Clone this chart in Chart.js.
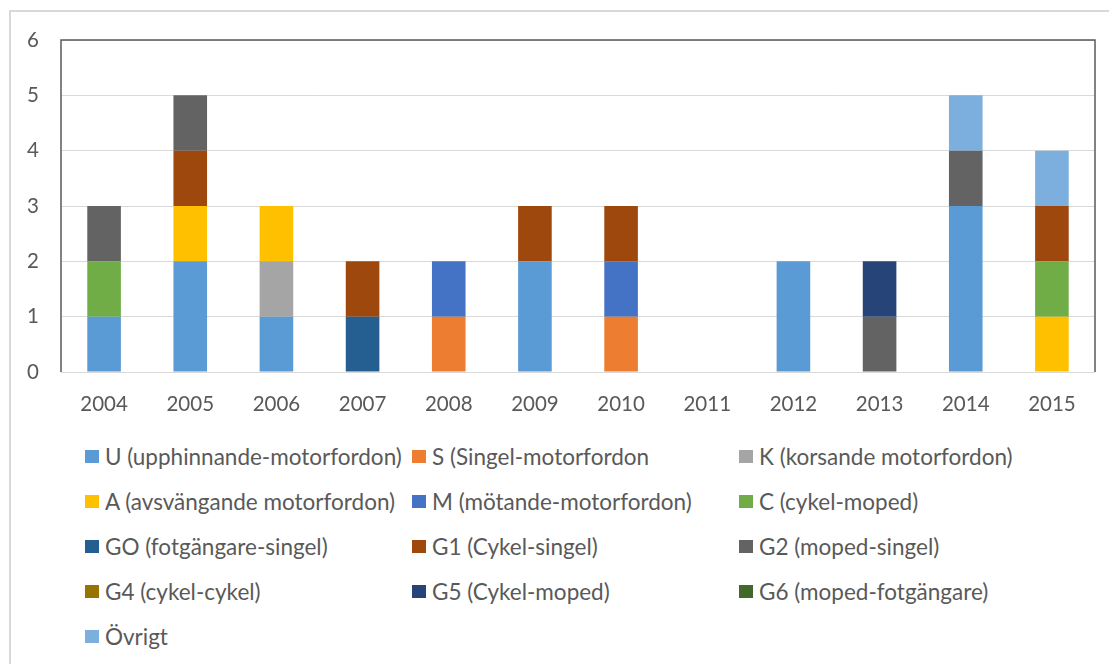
<!DOCTYPE html>
<html>
<head>
<meta charset="utf-8">
<script src="https://cdn.jsdelivr.net/npm/chart.js@4"></script>
<style>
  body { margin: 0; background: #fff; font-family: Lato, "Liberation Sans", sans-serif; }
  #wrap { position: relative; width: 1109px; height: 664px; overflow: hidden; }
  #frame { position: absolute; left: 9px; top: 10px; width: 1200px; height: 800px;
           border-left: 2px solid #d9d9d9; border-top: 2px solid #d9d9d9; }
  #chartBox { position: absolute; left: 0; top: 0; width: 1109px; height: 425px; }
  #legend { position: absolute; left: 85px; top: 434px; display: grid;
            grid-template-columns: 327px 327px 327px; grid-auto-rows: 45px; }
  .item { display: flex; align-items: center; font-size: 22.5px; color: #595959; white-space: nowrap; }
  .sw { width: 14px; height: 13px; margin-right: 6px; flex: none; }
</style>
</head>
<body>
<div id="wrap">
  <div id="frame"></div>
  <div id="chartBox"><canvas id="myChart"></canvas></div>
  <div id="legend"></div>
</div>
<script>
// år
const years = ['2004', '2005', '2006', '2007', '2008', '2009', '2010', '2011', '2012', '2013', '2014', '2015'];

// antal olyckor per typ och år
const U_upphinnande = [1, 2, 1, 0, 0, 2, 0, 0, 2, 0, 3, 0];
const S_singel      = [0, 0, 0, 0, 1, 0, 1, 0, 0, 0, 0, 0];
const K_korsande    = [0, 0, 1, 0, 0, 0, 0, 0, 0, 0, 0, 0];
const A_avsvangande = [0, 1, 1, 0, 0, 0, 0, 0, 0, 0, 0, 1];
const M_motande     = [0, 0, 0, 0, 1, 0, 1, 0, 0, 0, 0, 0];
const C_cykelMoped  = [1, 0, 0, 0, 0, 0, 0, 0, 0, 0, 0, 1];
const GO_fotganare  = [0, 0, 0, 1, 0, 0, 0, 0, 0, 0, 0, 0];
const G1_cykel      = [0, 1, 0, 1, 0, 1, 1, 0, 0, 0, 0, 1];
const G2_moped      = [1, 1, 0, 0, 0, 0, 0, 0, 0, 1, 1, 0];
const G4_cykelCykel = [0, 0, 0, 0, 0, 0, 0, 0, 0, 0, 0, 0];
const G5_cykelMoped = [0, 0, 0, 0, 0, 0, 0, 0, 0, 1, 0, 0];
const G6_mopedFot   = [0, 0, 0, 0, 0, 0, 0, 0, 0, 0, 0, 0];
const ovrigt        = [0, 0, 0, 0, 0, 0, 0, 0, 0, 0, 1, 1];

const yTicks = [0, 1, 2, 3, 4, 5, 6];

const series = [
  { label: 'U (upphinnande-motorfordon)', data: U_upphinnande, color: '#5b9bd5' },
  { label: 'S (Singel-motorfordon', data: S_singel, color: '#ed7d31' },
  { label: 'K (korsande motorfordon)', data: K_korsande, color: '#a5a5a5' },
  { label: 'A (avsvängande motorfordon)', data: A_avsvangande, color: '#ffc000' },
  { label: 'M (mötande-motorfordon)', data: M_motande, color: '#4472c4' },
  { label: 'C (cykel-moped)', data: C_cykelMoped, color: '#70ad47' },
  { label: 'GO (fotgängare-singel)', data: GO_fotganare, color: '#255e91' },
  { label: 'G1 (Cykel-singel)', data: G1_cykel, color: '#9e480e' },
  { label: 'G2 (moped-singel)', data: G2_moped, color: '#636363' },
  { label: 'G4 (cykel-cykel)', data: G4_cykelCykel, color: '#997300' },
  { label: 'G5 (Cykel-moped)', data: G5_cykelMoped, color: '#264478' },
  { label: 'G6 (moped-fotgängare)', data: G6_mopedFot, color: '#43682b' },
  { label: 'Övrigt', data: ovrigt, color: '#7cafdd' }
];

// ram runt plotytan (vänster, topp, höger)
const plotFrame = {
  id: 'plotFrame',
  afterDatasetsDraw(chart) {
    const a = chart.chartArea;
    const c = chart.ctx;
    c.save();
    c.strokeStyle = '#595959';
    c.lineWidth = 1.5;
    c.beginPath();
    c.moveTo(a.left, a.bottom);
    c.lineTo(a.left, a.top);
    c.lineTo(a.right, a.top);
    c.lineTo(a.right, a.bottom);
    c.stroke();
    c.restore();
  }
};

const ctx = document.getElementById('myChart');

new Chart(ctx, {
  type: 'bar',
  data: {
    labels: years,
    datasets: series.map(s => ({
      label: s.label,
      data: s.data,
      backgroundColor: s.color,
      borderWidth: 0,
      categoryPercentage: 1,
      barPercentage: 0.39
    }))
  },
  options: {
    responsive: true,
    maintainAspectRatio: false,
    animation: false,
    layout: { padding: { left: 0, top: 40, right: 14, bottom: 0 } },
    plugins: {
      legend: { display: false },
      tooltip: { enabled: false }
    },
    scales: {
      x: {
        stacked: true,
        grid: { display: false, drawTicks: false },
        border: { display: false },
        ticks: { color: '#595959', font: { family: 'Lato', size: 20.5 }, padding: 20 },
        afterFit(scale) { scale.height = 53; }
      },
      y: {
        stacked: true,
        min: 0,
        max: 6,
        afterBuildTicks(scale) { scale.ticks = yTicks.map(v => ({ value: v })); },
        grid: { color: '#d9d9d9', lineWidth: 1, drawTicks: false },
        border: { display: false },
        ticks: { color: '#595959', font: { family: 'Lato', size: 20.5 }, padding: 22 },
        afterFit(scale) { scale.width = 61; }
      }
    }
  },
  plugins: [plotFrame]
});

// förklaring i tre kolumner
const legendEl = document.getElementById('legend');
series.forEach(s => {
  const item = document.createElement('div');
  item.className = 'item';
  const sw = document.createElement('span');
  sw.className = 'sw';
  sw.style.background = s.color;
  item.appendChild(sw);
  item.appendChild(document.createTextNode(s.label));
  legendEl.appendChild(item);
});
</script>
</body>
</html>
